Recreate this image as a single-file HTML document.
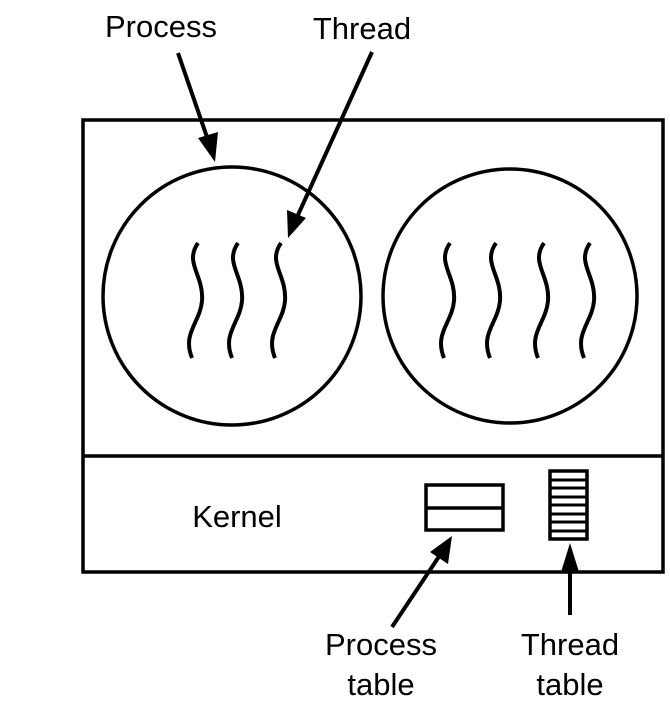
<!DOCTYPE html>
<html><head><style>body{margin:0;background:#fff}</style></head><body>
<svg width="670" height="718" viewBox="0 0 670 718" xmlns="http://www.w3.org/2000/svg" style="font-family:'Liberation Sans',sans-serif">
<defs>
<path id="sq" d="M8 0 C-6 20,14 32,12 58 C10 80,-8 90,2 115" fill="none" stroke="#000" stroke-width="4"/>
</defs>
<g fill="none" stroke="#000" stroke-width="3.5">
<rect x="83" y="120" width="580" height="452"/>
<line x1="83" y1="456" x2="663" y2="456"/>
<circle cx="232" cy="296" r="129"/>
<circle cx="510" cy="296" r="127"/>
<rect x="426" y="485" width="77" height="45"/>
<line x1="426" y1="508" x2="503" y2="508"/>
<rect x="550" y="471" width="37" height="68"/>
</g>
<g stroke="#000" stroke-width="3">
<line x1="550" y1="480" x2="587" y2="480"/><line x1="550" y1="488" x2="587" y2="488"/>
<line x1="550" y1="497" x2="587" y2="497"/><line x1="550" y1="505" x2="587" y2="505"/>
<line x1="550" y1="514" x2="587" y2="514"/><line x1="550" y1="522" x2="587" y2="522"/>
<line x1="550" y1="531" x2="587" y2="531"/>
</g>
<use href="#sq" x="190" y="243"/><use href="#sq" x="230" y="243"/><use href="#sq" x="273" y="243"/>
<use href="#sq" x="442" y="243"/><use href="#sq" x="488" y="243"/><use href="#sq" x="536" y="243"/><use href="#sq" x="582" y="243"/>
<g stroke="#000" stroke-width="4">
<line x1="178" y1="53" x2="208" y2="140"/>
<line x1="372" y1="52" x2="298" y2="215"/>
<line x1="392" y1="627" x2="440" y2="555"/>
<line x1="570" y1="615" x2="570" y2="565"/>
</g>
<g fill="#000">
<polygon points="215,162 198,138 218,132"/>
<polygon points="288,238 287,210 306,218"/>
<polygon points="452,536 448,564 430,552"/>
<polygon points="570,543 579,572 561,572"/>
</g>
<g font-size="31" fill="#000" text-anchor="middle">
<text x="161" y="37">Process</text>
<text x="362" y="39">Thread</text>
<text x="237" y="527">Kernel</text>
<text x="381" y="655">Process</text>
<text x="381" y="695">table</text>
<text x="570" y="655">Thread</text>
<text x="570" y="695">table</text>
</g>
</svg>
</body></html>
